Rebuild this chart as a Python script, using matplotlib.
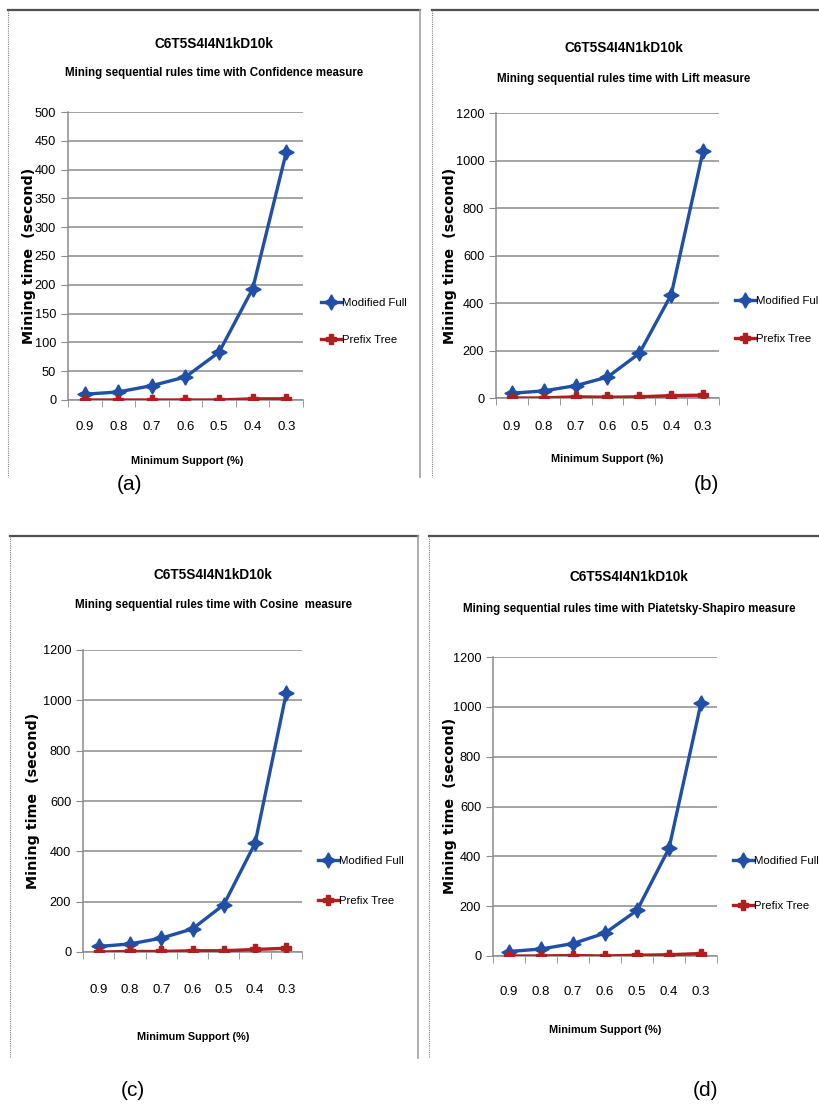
import matplotlib
matplotlib.use("Agg")
import matplotlib.pyplot as plt
from matplotlib.lines import Line2D

plt.rcParams['font.family'] = ['Liberation Sans', 'DejaVu Sans']

# data
supports = ["0.9", "0.8", "0.7", "0.6", "0.5", "0.4", "0.3"]
measures = ["Confidence", "Lift", "Cosine ", "Piatetsky-Shapiro"]
full_conf = [10, 14, 25, 40, 83, 193, 430]
prefix_conf = [0, 0, 0, 0, 0, 2, 2]
full_lift = [20, 30, 52, 88, 188, 435, 1040]
prefix_lift = [0, 0, 5, 3, 5, 10, 12]
full_cos = [22, 32, 55, 92, 188, 432, 1030]
prefix_cos = [0, 2, 2, 5, 5, 10, 15]
full_ps = [18, 28, 50, 92, 183, 432, 1015]
prefix_ps = [0, 0, 2, 0, 3, 5, 10]
ymaxes = [500, 1200, 1200, 1200]
ysteps = [50, 200, 200, 200]
panel_names = ["(a)", "(b)", "(c)", "(d)"]

W, H = 819, 1105
fig = plt.figure(figsize=(W / 100, H / 100), dpi=100)
fig.patch.set_facecolor("white")

BLUE = "#1f4fa6"
RED = "#b01e1e"
LEG_FS = 8.2


def fx(x):
    return x / W


def fy(y):
    return 1 - y / H


# layout in pixels for each panel
panels = [
    dict(ax=(68, 303, 112, 400), title=(214, 44, 73), xlab=(187, 461), ylab=(29, 256),
         leg=(321, 302, 341), frame=(8, 420, 10, 477), tag=(130, 485), xpad=15),
    dict(ax=(496, 719, 113, 398), title=(624, 48, 79), xlab=(607, 459), ylab=(450, 256),
         leg=(735, 300, 340), frame=(432, 830, 10, 477), tag=(706, 485), xpad=16.5),
    dict(ax=(83, 302, 650, 952), title=(213, 575, 605), xlab=(193, 1037), ylab=(33, 801),
         leg=(318, 860, 902), frame=(10, 418, 536, 1058), tag=(133, 1090), xpad=23),
    dict(ax=(493, 717, 657, 956), title=(629, 577, 609), xlab=(605, 1030), ylab=(450, 806),
         leg=(733, 860, 907), frame=(429, 830, 536, 1058), tag=(705, 1090), xpad=21.5),
]
fulls = [full_conf, full_lift, full_cos, full_ps]
prefixes = [prefix_conf, prefix_lift, prefix_cos, prefix_ps]

for i, p in enumerate(panels):
    # frame lines
    l, r, t, b = p["frame"]
    fig.add_artist(Line2D([fx(l), fx(r)], [fy(t), fy(t)], color="#505050", lw=1.6))
    fig.add_artist(Line2D([fx(l), fx(l)], [fy(t), fy(b)], color="#808080", lw=0.8, ls=(0, (1, 1))))
    if r < W:
        fig.add_artist(Line2D([fx(r), fx(r)], [fy(t), fy(b)], color="#a0a0a0", lw=1.2))

    x0, x1, y0, y1 = p["ax"]
    ax = fig.add_axes([fx(x0), fy(y1), (x1 - x0) / W, (y1 - y0) / H])
    xs = list(range(len(supports)))
    ax.plot(xs, fulls[i], color=BLUE, lw=2.4, marker=(4, 1, 0), ms=11,
            label="Modified Full", zorder=3)
    ax.plot(xs, prefixes[i], color=RED, lw=2.4, marker="P", ms=7.5,
            label="Prefix Tree", zorder=3)

    ax.set_xlim(-0.5, len(supports) - 0.5)
    ax.set_ylim(0, ymaxes[i])
    ax.set_yticks(range(0, ymaxes[i] + 1, ysteps[i]))
    ax.yaxis.grid(True, color="#8c8c8c", lw=1.1)
    ax.set_axisbelow(True)
    ax.set_xticks(xs)
    ax.set_xticklabels(supports)
    ax.set_xticks([k - 0.5 for k in range(len(supports) + 1)], minor=True)
    ax.tick_params(axis="x", which="major", length=0, pad=p["xpad"], labelsize=9.5)
    ax.tick_params(axis="x", which="minor", length=5, color="#8c8c8c")
    ax.tick_params(axis="y", length=5, color="#8c8c8c", labelsize=9.2, pad=3.5)
    for s in ["top", "right"]:
        ax.spines[s].set_visible(False)
    for s in ["left", "bottom"]:
        ax.spines[s].set_color("#8c8c8c")
        ax.spines[s].set_linewidth(1.1)

    # titles
    tx, ty1, ty2 = p["title"]
    fig.text(fx(tx), fy(ty1), "C6T5S4I4N1kD10k", ha="center", va="center",
             fontsize=9.8, fontweight="bold")
    fig.text(fx(tx), fy(ty2), "Mining sequential rules time with " + measures[i] + " measure",
             ha="center", va="center", fontsize=8.3, fontweight="bold")
    fig.text(fx(p["xlab"][0]), fy(p["xlab"][1]), "Minimum Support (%)", ha="center",
             va="center", fontsize=7.8, fontweight="bold")
    fig.text(fx(p["ylab"][0]), fy(p["ylab"][1]), "Mining time  (second)", ha="center",
             va="center", rotation=90, fontsize=10.3, fontweight="bold", family="DejaVu Sans")
    fig.text(fx(p["tag"][0]), fy(p["tag"][1]), panel_names[i], ha="center", va="center",
             fontsize=15)

    # legend
    lx, ly1, ly2 = p["leg"]
    fpx = LEG_FS * 100 / 72
    gap = (ly2 - ly1 - fpx) / fpx
    ax.legend(loc="center left", bbox_to_anchor=(fx(lx), fy((ly1 + ly2) / 2)),
              bbox_transform=fig.transFigure, frameon=False, fontsize=LEG_FS,
              handlelength=1.8, handletextpad=0.05, labelspacing=gap, borderpad=0,
              borderaxespad=0)

plt.savefig("out.png", dpi=100)
